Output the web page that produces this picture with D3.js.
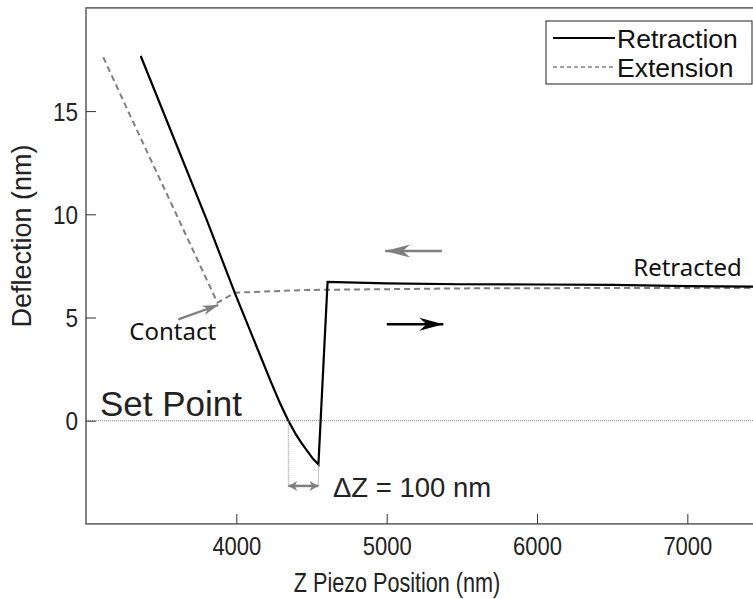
<!DOCTYPE html>
<html>
<head>
<meta charset="utf-8">
<script src="https://cdn.jsdelivr.net/npm/d3@7"></script>
<style>
  body { margin: 0; background: #fff; }
  svg { display: block; }
</style>
</head>
<body>
<script>
// retraction curve (solid) - z piezo position (nm) and deflection (nm)
var retractZ = [3364, 3500, 3803, 3991, 4171, 4230, 4290, 4346, 4395, 4435, 4510, 4546, 4607, 5000, 5488, 6000, 6500, 7000, 7450];
var retractD = [17.67, 15.21, 9.73, 6.17, 2.94, 1.88, 0.86, 0.0, -0.65, -1.1, -1.85, -2.12, 6.73, 6.65, 6.61, 6.6, 6.58, 6.52, 6.5];

// extension curve (dashed)
var extendZ = [3115, 3297, 3572, 3874, 3991, 4444, 5488, 6500, 7450];
var extendD = [17.61, 14.73, 10.45, 5.72, 6.2, 6.33, 6.41, 6.43, 6.43];

var xTicks = [4000, 5000, 6000, 7000];
var yTicks = [0, 5, 10, 15];
var legendNames = ["Retraction", "Extension"];

var width = 753, height = 599;
var svg = d3.select("body").append("svg")
    .attr("width", width)
    .attr("height", height);

var x = d3.scaleLinear().domain([3000, 7500]).range([86, 762.5]);
var y = d3.scaleLinear().domain([-5, 20]).range([523.9, 7.9]);
var axisFont = "Liberation Sans, Arial, sans-serif";

// set point line
svg.append("line")
    .attr("x1", x(3000)).attr("x2", x(7500))
    .attr("y1", y(0)).attr("y2", y(0))
    .attr("stroke", "#888")
    .attr("stroke-width", 1)
    .attr("stroke-dasharray", "1,1");

// frame
svg.append("rect")
    .attr("x", x(3000)).attr("y", y(20))
    .attr("width", x(7500) - x(3000))
    .attr("height", y(-5) - y(20))
    .attr("fill", "none")
    .attr("stroke", "#5a5a5a")
    .attr("stroke-width", 1.5);

var xAxis = svg.append("g")
    .attr("transform", "translate(0," + y(-5) + ")")
    .call(d3.axisBottom(x).tickValues(xTicks).tickFormat(d3.format("d"))
        .tickSizeInner(-10).tickSizeOuter(0));
xAxis.select(".domain").remove();
xAxis.selectAll(".tick line").attr("stroke", "#333").attr("stroke-width", 1);
xAxis.selectAll("text")
    .attr("y", 31).attr("dy", null)
    .attr("font-family", axisFont)
    .attr("font-size", 25)
    .attr("fill", "#222")
    .attr("transform", "scale(0.88,1)");

var yAxis = svg.append("g")
    .attr("transform", "translate(" + x(3000) + ",0)")
    .call(d3.axisLeft(y).tickValues(yTicks).tickFormat(d3.format("d"))
        .tickSizeInner(-10).tickSizeOuter(0));
yAxis.select(".domain").remove();
yAxis.selectAll(".tick line").attr("stroke", "#333").attr("stroke-width", 1);
yAxis.selectAll("text")
    .attr("x", -9).attr("dy", "0.36em")
    .attr("font-family", axisFont)
    .attr("font-size", 25)
    .attr("fill", "#222")
    .attr("transform", "scale(0.9,1)");

// axis titles
svg.append("text")
    .attr("transform", "translate(397,592) scale(0.8,1)")
    .attr("text-anchor", "middle")
    .attr("font-family", axisFont)
    .attr("font-size", 27)
    .attr("fill", "#222")
    .text("Z Piezo Position (nm)");

svg.append("text")
    .attr("transform", "translate(31,236) rotate(-90)")
    .attr("text-anchor", "middle")
    .attr("font-family", axisFont)
    .attr("font-size", 27)
    .attr("fill", "#222")
    .text("Deflection (nm)");

// curves
var line = d3.line()
    .x(function (d) { return x(d[0]); })
    .y(function (d) { return y(d[1]); });

svg.append("path")
    .datum(d3.zip(extendZ, extendD))
    .attr("d", line)
    .attr("fill", "none")
    .attr("stroke", "#7f7f7f")
    .attr("stroke-width", 2)
    .attr("stroke-dasharray", "6,4");

svg.append("path")
    .datum(d3.zip(retractZ, retractD))
    .attr("d", line)
    .attr("fill", "none")
    .attr("stroke", "#000")
    .attr("stroke-width", 2.2)
    .attr("stroke-linejoin", "miter");

// arrows
function arrowHead(tx, ty, angle, len, half, color) {
    var p = [[0, 0], [-len, -half], [-len * 0.7, 0], [-len, half]];
    svg.append("path")
        .attr("d", "M" + p.map(function (q) { return q.join(","); }).join("L") + "Z")
        .attr("transform", "translate(" + tx + "," + ty + ") rotate(" + angle + ")")
        .attr("fill", color);
}
function arrow(z0, d0, z1, d1, color, w, len, half, both) {
    var x0 = x(z0), y0 = y(d0), x1 = x(z1), y1 = y(d1);
    var ang = Math.atan2(y1 - y0, x1 - x0) * 180 / Math.PI;
    svg.append("line")
        .attr("x1", x0).attr("y1", y0).attr("x2", x1).attr("y2", y1)
        .attr("stroke", color).attr("stroke-width", w);
    arrowHead(x1, y1, ang, len, half, color);
    if (both) arrowHead(x0, y0, ang + 180, len, half, color);
}

arrow(5367, 8.22, 4990, 8.22, "#7f7f7f", 2.5, 25, 6.5, false);
arrow(5001, 4.67, 5377, 4.67, "#000", 2.5, 24, 6.5, false);
arrow(3614, 4.91, 3880, 5.61, "#7f7f7f", 2.2, 16, 5, false);

// delta Z marker
var dzLeft = 4346, dzRight = 4546, dzLevel = -3.16;
[[dzLeft, 0], [dzRight, -2.12]].forEach(function (d) {
    svg.append("line")
        .attr("x1", x(d[0])).attr("x2", x(d[0]))
        .attr("y1", y(d[1])).attr("y2", y(dzLevel))
        .attr("stroke", "#888").attr("stroke-width", 1)
        .attr("stroke-dasharray", "1,1");
});
arrow(dzLeft, dzLevel, dzRight, dzLevel, "#7f7f7f", 2.5, 9, 5, true);

// labels
svg.append("text")
    .attr("x", x(3093)).attr("y", y(0.24))
    .attr("font-family", axisFont)
    .attr("font-size", 35)
    .attr("fill", "#222")
    .text("Set Point");

svg.append("text")
    .attr("x", x(4643)).attr("y", y(-3.7))
    .attr("font-family", axisFont)
    .attr("font-size", 27.5)
    .attr("fill", "#222")
    .text("\u0394Z = 100 nm");

svg.append("text")
    .attr("x", x(3288)).attr("y", y(3.91))
    .attr("font-family", "Noto Sans, Open Sans, sans-serif")
    .attr("font-size", 24)
    .attr("fill", "#111")
    .text("Contact");

svg.append("text")
    .attr("x", x(7362)).attr("y", y(7.01))
    .attr("text-anchor", "end")
    .attr("font-family", "Noto Sans, Open Sans, sans-serif")
    .attr("font-size", 24)
    .attr("fill", "#111")
    .text("Retracted");

// legend
var legend = svg.append("g").attr("transform", "translate(546,21)");
legend.append("rect")
    .attr("width", 206).attr("height", 63)
    .attr("fill", "#fff")
    .attr("stroke", "#222")
    .attr("stroke-width", 1);
legend.selectAll("line.key")
    .data(legendNames)
    .enter().append("line")
    .attr("class", "key")
    .attr("x1", 7).attr("x2", 69)
    .attr("y1", function (d, i) { return 17 + i * 29; })
    .attr("y2", function (d, i) { return 17 + i * 29; })
    .attr("stroke", function (d, i) { return i === 0 ? "#000" : "#7f7f7f"; })
    .attr("stroke-width", function (d, i) { return i === 0 ? 2 : 1.5; })
    .attr("stroke-dasharray", function (d, i) { return i === 0 ? null : "4,3"; });
legend.selectAll("text")
    .data(legendNames)
    .enter().append("text")
    .attr("x", 71)
    .attr("y", function (d, i) { return 26.5 + i * 29; })
    .attr("font-family", axisFont)
    .attr("font-size", 26.5)
    .attr("fill", "#111")
    .text(function (d) { return d; });
</script>
</body>
</html>
